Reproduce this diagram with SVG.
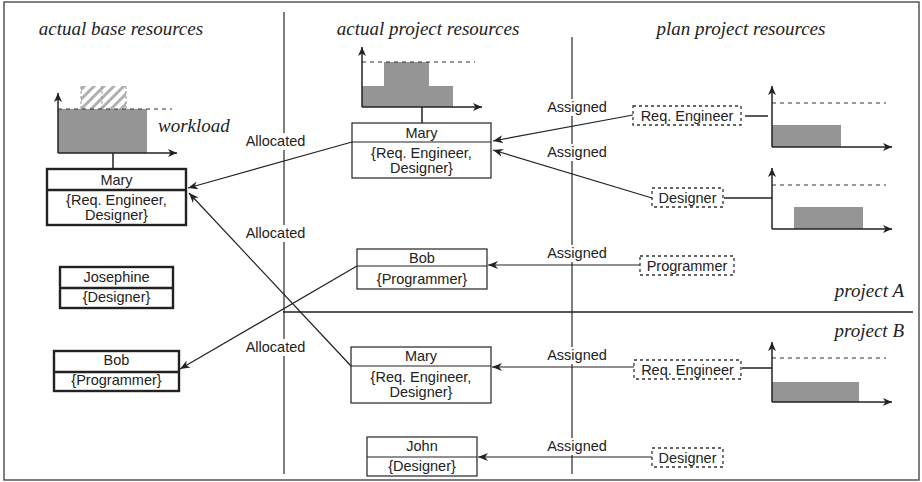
<svg xmlns="http://www.w3.org/2000/svg" width="922" height="482" viewBox="0 0 922 482">
  <defs>
    <style>
      .title { font-family: "Liberation Serif", "Times New Roman", serif; font-style: italic; font-size: 19px; fill: #222; }
      .lbl { font-family: "Liberation Sans", Arial, sans-serif; font-size: 14.5px; fill: #222; text-anchor: middle; }
      .div { stroke: #555; stroke-width: 1.5; fill: none; }
      .base { fill: #fff; stroke: #222; stroke-width: 2.4; }
      .proj { fill: #fff; stroke: #222; stroke-width: 1.2; }
      .plan { fill: #fff; stroke: #333; stroke-width: 1.3; stroke-dasharray: 3 3; }
      .axis { stroke: #222; stroke-width: 1.5; fill: none; }
      .cap { stroke: #333; stroke-width: 1.2; stroke-dasharray: 4 4; fill: none; }
      .bar { fill: #959595; stroke: none; }
      .conn { stroke: #222; stroke-width: 1.2; fill: none; }
      .mask { fill: #fff; }
    </style>
    <marker id="arr" markerWidth="11" markerHeight="8" refX="10" refY="4" orient="auto" markerUnits="userSpaceOnUse">
      <path d="M0,0 L10,4 L0,8 L3,4 z" fill="#222"/>
    </marker>
    <marker id="ax" markerWidth="10" markerHeight="8" refX="9" refY="4" orient="auto" markerUnits="userSpaceOnUse">
      <path d="M0,0 L9,4 L0,8 L2.5,4 z" fill="#222"/>
    </marker>
    <pattern id="hatch" width="7" height="7" patternUnits="userSpaceOnUse" patternTransform="rotate(45)">
      <rect width="7" height="7" fill="#fff"/>
      <rect x="0" y="0" width="3" height="7" fill="#b0b0b0"/>
    </pattern>
  </defs>

  <!-- frame -->
  <rect x="4" y="2" width="915" height="478" fill="#fff" stroke="#555" stroke-width="1.5"/>

  <!-- column and project separators -->
  <g id="separators">
    <line class="div" x1="284" y1="12" x2="284" y2="474"/>
    <line class="div" x1="572" y1="37" x2="572" y2="474"/>
    <line x1="283" y1="312" x2="913" y2="312" stroke="#222" stroke-width="1.5"/>
  </g>

  <!-- headings -->
  <text class="title" x="121" y="35" text-anchor="middle">actual base resources</text>
  <text class="title" x="428" y="35" text-anchor="middle">actual project resources</text>
  <text class="title" x="741" y="35" text-anchor="middle">plan project resources</text>
  <text class="title" x="904" y="297" text-anchor="end">project A</text>
  <text class="title" x="904" y="337" text-anchor="end">project B</text>

  <!-- workload chart of base Mary -->
  <g id="chart-base-mary">
    <rect class="bar" x="58" y="109" width="89" height="44"/>
    <rect x="81" y="86" width="45" height="23" fill="url(#hatch)"/>
    <line x1="81" y1="86" x2="81" y2="109" stroke="#999" stroke-width="1" stroke-dasharray="3 2"/>
    <line x1="102" y1="86" x2="102" y2="109" stroke="#999" stroke-width="1" stroke-dasharray="3 2"/>
    <line x1="126" y1="86" x2="126" y2="109" stroke="#999" stroke-width="1" stroke-dasharray="3 2"/>
    <line class="cap" x1="58" y1="109" x2="172" y2="109"/>
    <line class="axis" x1="58" y1="153" x2="58" y2="93" marker-end="url(#ax)"/>
    <line class="axis" x1="58" y1="153" x2="177" y2="153" marker-end="url(#ax)"/>
    <line class="axis" x1="113" y1="153" x2="113" y2="169"/>
    <text class="title" x="158" y="132">workload</text>
  </g>

  <!-- workload chart of project Mary -->
  <g id="chart-proj-mary">
    <path class="bar" d="M362,107 V86 H384 V62 H429 V86 H453 V107 Z"/>
    <line class="cap" x1="362" y1="62" x2="475" y2="62"/>
    <line class="axis" x1="362" y1="107" x2="362" y2="47" marker-end="url(#ax)"/>
    <line class="axis" x1="362" y1="107" x2="482" y2="107" marker-end="url(#ax)"/>
    <line class="axis" x1="422" y1="107" x2="422" y2="123"/>
  </g>

  <!-- plan charts -->
  <g id="chart-plan-req-a">
    <rect class="bar" x="772" y="125" width="69" height="22"/>
    <line class="cap" x1="772" y1="103" x2="886" y2="103"/>
    <line class="axis" x1="772" y1="147" x2="772" y2="86" marker-end="url(#ax)"/>
    <line class="axis" x1="772" y1="147" x2="892" y2="147" marker-end="url(#ax)"/>
    <line class="axis" x1="745" y1="116" x2="768" y2="116"/>
  </g>
  <g id="chart-plan-des-a">
    <rect class="bar" x="794" y="207" width="69" height="22"/>
    <line class="cap" x1="772" y1="185" x2="886" y2="185"/>
    <line class="axis" x1="772" y1="229" x2="772" y2="168" marker-end="url(#ax)"/>
    <line class="axis" x1="772" y1="229" x2="892" y2="229" marker-end="url(#ax)"/>
    <line class="axis" x1="724" y1="198" x2="772" y2="198"/>
  </g>
  <g id="chart-plan-req-b">
    <rect class="bar" x="772" y="382" width="87" height="20"/>
    <line class="cap" x1="772" y1="358" x2="886" y2="358"/>
    <line class="axis" x1="772" y1="402" x2="772" y2="342" marker-end="url(#ax)"/>
    <line class="axis" x1="772" y1="402" x2="892" y2="402" marker-end="url(#ax)"/>
    <line class="axis" x1="742" y1="368" x2="772" y2="368"/>
  </g>

  <!-- connectors -->
  <g id="connectors">
    <line class="conn" x1="352" y1="142" x2="188" y2="188" marker-end="url(#arr)"/>
    <line class="conn" x1="351" y1="366" x2="189" y2="193" marker-end="url(#arr)"/>
    <line class="conn" x1="357" y1="266" x2="180" y2="369" marker-end="url(#arr)"/>
    <line class="conn" x1="633" y1="115" x2="493" y2="141" marker-end="url(#arr)"/>
    <line class="conn" x1="652" y1="198" x2="493" y2="150" marker-end="url(#arr)"/>
    <line class="conn" x1="640" y1="265" x2="488" y2="265" marker-end="url(#arr)"/>
    <line class="conn" x1="634" y1="367" x2="492" y2="367" marker-end="url(#arr)"/>
    <line class="conn" x1="652" y1="457" x2="478" y2="457" marker-end="url(#arr)"/>
  </g>

  <!-- connector labels -->
  <g id="labels">
    <rect class="mask" x="246" y="133" width="60" height="17"/>
    <text class="lbl" x="275.5" y="146">Allocated</text>
    <rect class="mask" x="246" y="225" width="60" height="17"/>
    <text class="lbl" x="275.5" y="238">Allocated</text>
    <rect class="mask" x="246" y="339" width="60" height="17"/>
    <text class="lbl" x="275.5" y="352">Allocated</text>
    <rect class="mask" x="547" y="99" width="61" height="17"/>
    <text class="lbl" x="577" y="112">Assigned</text>
    <rect class="mask" x="547" y="144" width="61" height="17"/>
    <text class="lbl" x="577" y="157">Assigned</text>
    <rect class="mask" x="547" y="245" width="61" height="17"/>
    <text class="lbl" x="577" y="258">Assigned</text>
    <rect class="mask" x="547" y="347" width="61" height="17"/>
    <text class="lbl" x="577" y="360">Assigned</text>
    <rect class="mask" x="547" y="438" width="61" height="17"/>
    <text class="lbl" x="577" y="451">Assigned</text>
  </g>

  <!-- actual base resources -->
  <g id="base-mary">
    <rect class="base" x="47" y="169" width="139" height="56"/>
    <line class="base" x1="47" y1="190" x2="186" y2="190"/>
    <text class="lbl" x="116.5" y="185">Mary</text>
    <text class="lbl" x="116.5" y="205">{Req. Engineer,</text>
    <text class="lbl" x="116.5" y="220">Designer}</text>
  </g>
  <g id="base-josephine">
    <rect class="base" x="60" y="267" width="113" height="41"/>
    <line class="base" x1="60" y1="288" x2="173" y2="288"/>
    <text class="lbl" x="116.5" y="282">Josephine</text>
    <text class="lbl" x="116.5" y="302">{Designer}</text>
  </g>
  <g id="base-bob">
    <rect class="base" x="54" y="351" width="125" height="40"/>
    <line class="base" x1="54" y1="372" x2="179" y2="372"/>
    <text class="lbl" x="116.5" y="365">Bob</text>
    <text class="lbl" x="116.5" y="385">{Programmer}</text>
  </g>

  <!-- actual project resources -->
  <g id="proj-a-mary">
    <rect class="proj" x="352" y="123" width="139" height="55"/>
    <line class="proj" x1="352" y1="142" x2="491" y2="142"/>
    <text class="lbl" x="421.5" y="138">Mary</text>
    <text class="lbl" x="421.5" y="158">{Req. Engineer,</text>
    <text class="lbl" x="421.5" y="173">Designer}</text>
  </g>
  <g id="proj-a-bob">
    <rect class="proj" x="357" y="249" width="130" height="40"/>
    <line class="proj" x1="357" y1="266" x2="487" y2="266"/>
    <text class="lbl" x="422" y="263">Bob</text>
    <text class="lbl" x="422" y="284">{Programmer}</text>
  </g>
  <g id="proj-b-mary">
    <rect class="proj" x="351" y="347" width="140" height="56"/>
    <line class="proj" x1="351" y1="366" x2="491" y2="366"/>
    <text class="lbl" x="421" y="361">Mary</text>
    <text class="lbl" x="421" y="382">{Req. Engineer,</text>
    <text class="lbl" x="421" y="397">Designer}</text>
  </g>
  <g id="proj-b-john">
    <rect class="proj" x="367" y="437" width="110" height="39"/>
    <line class="proj" x1="367" y1="457" x2="477" y2="457"/>
    <text class="lbl" x="422" y="451">John</text>
    <text class="lbl" x="422" y="471">{Designer}</text>
  </g>

  <!-- plan project resources -->
  <g id="plan-a-req">
    <rect class="plan" x="633" y="106" width="108" height="19"/>
    <text class="lbl" x="687" y="121">Req. Engineer</text>
  </g>
  <g id="plan-a-des">
    <rect class="plan" x="652" y="188" width="71" height="19"/>
    <text class="lbl" x="687.5" y="203">Designer</text>
  </g>
  <g id="plan-a-prog">
    <rect class="plan" x="640" y="256" width="94" height="19"/>
    <text class="lbl" x="687" y="271">Programmer</text>
  </g>
  <g id="plan-b-req">
    <rect class="plan" x="634" y="360" width="107" height="19"/>
    <text class="lbl" x="687.5" y="375">Req. Engineer</text>
  </g>
  <g id="plan-b-des">
    <rect class="plan" x="652" y="448" width="71" height="19"/>
    <text class="lbl" x="687.5" y="463">Designer</text>
  </g>
</svg>
